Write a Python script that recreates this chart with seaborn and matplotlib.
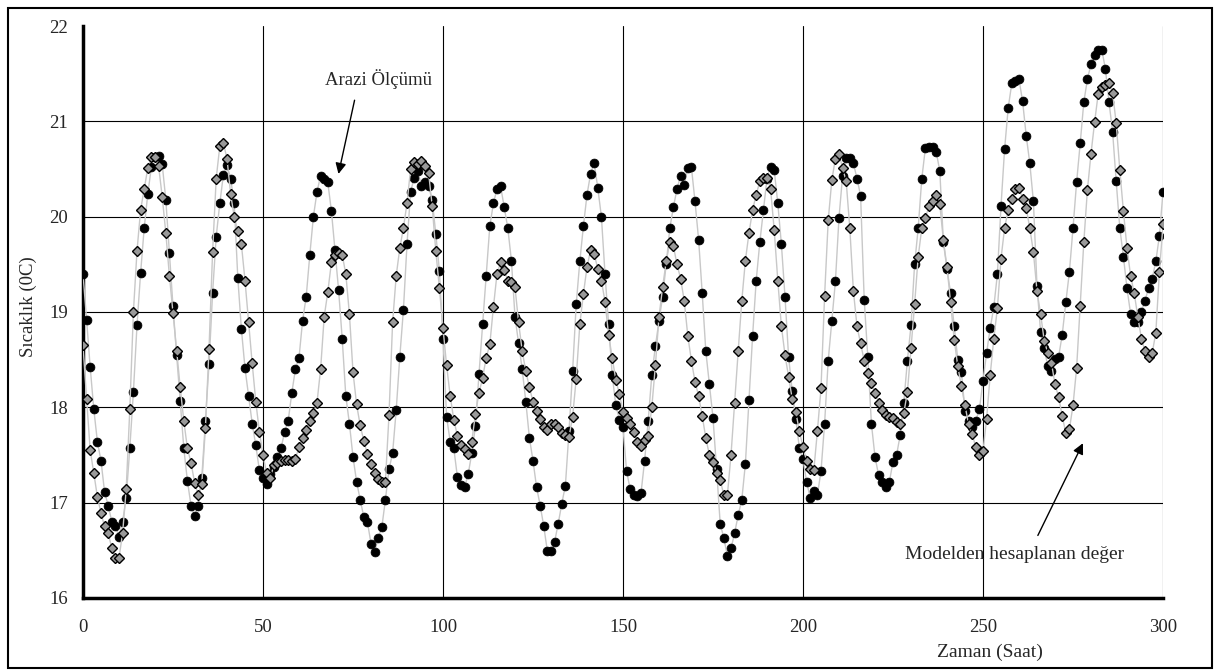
import numpy as np
import matplotlib
matplotlib.use("Agg")
import matplotlib.pyplot as plt
from matplotlib.patches import Rectangle
import seaborn as sns

# -----------------------------
# Data (hourly readings, 0-300 h)
# -----------------------------
hours = np.arange(0, 301)

# Arazi Ölçümü (field measurement, black circles)
arazi = [
    19.40, 18.92, 18.42, 17.98, 17.64, 17.44, 17.11, 16.97, 16.80, 16.76,
    16.64, 16.80, 17.05, 17.57, 18.16, 18.86, 19.41, 19.88, 20.24, 20.52,
    20.63, 20.64, 20.55, 20.18, 19.62, 19.06, 18.55, 18.07, 17.57, 17.23,
    16.97, 16.86, 16.97, 17.26, 17.86, 18.45, 19.20, 19.79, 20.14, 20.44,
    20.54, 20.40, 20.14, 19.36, 18.82, 18.41, 18.12, 17.83, 17.60, 17.34,
    17.26, 17.20, 17.30, 17.37, 17.48, 17.57, 17.74, 17.86, 18.15, 18.40,
    18.52, 18.91, 19.16, 19.60, 20.00, 20.26, 20.43, 20.40, 20.36, 20.06,
    19.65, 19.23, 18.72, 18.12, 17.83, 17.48, 17.22, 17.03, 16.85, 16.80,
    16.57, 16.48, 16.63, 16.74, 17.03, 17.35, 17.52, 17.97, 18.53, 19.02,
    19.71, 20.26, 20.41, 20.48, 20.32, 20.36, 20.32, 20.17, 19.82, 19.43,
    18.72, 17.90, 17.64, 17.57, 17.27, 17.19, 17.16, 17.30, 17.52, 17.80,
    18.35, 18.87, 19.38, 19.90, 20.14, 20.29, 20.32, 20.10, 19.88, 19.54,
    18.95, 18.67, 18.40, 18.06, 17.68, 17.44, 17.16, 16.97, 16.75, 16.49,
    16.49, 16.59, 16.78, 16.99, 17.18, 17.75, 18.38, 19.08, 19.53, 19.90,
    20.23, 20.45, 20.56, 20.30, 20.00, 19.40, 18.87, 18.34, 18.02, 17.87,
    17.79, 17.33, 17.14, 17.08, 17.07, 17.10, 17.44, 17.86, 18.34, 18.64,
    18.91, 19.16, 19.50, 19.88, 20.10, 20.29, 20.43, 20.33, 20.51, 20.52,
    20.16, 19.76, 19.20, 18.59, 18.24, 17.89, 17.35, 16.78, 16.63, 16.44,
    16.52, 16.68, 16.87, 17.03, 17.41, 18.08, 18.75, 19.33, 19.73, 20.07,
    20.40, 20.52, 20.49, 20.14, 19.71, 19.16, 18.53, 18.17, 17.88, 17.57,
    17.46, 17.22, 17.05, 17.12, 17.08, 17.33, 17.83, 18.49, 18.91, 19.32,
    19.99, 20.43, 20.62, 20.62, 20.56, 20.40, 20.22, 19.13, 18.53, 17.83,
    17.48, 17.29, 17.22, 17.16, 17.22, 17.43, 17.50, 17.71, 18.05, 18.49,
    18.86, 19.50, 19.88, 20.40, 20.72, 20.73, 20.73, 20.68, 20.48, 19.73,
    19.45, 19.20, 18.85, 18.50, 18.37, 17.96, 17.86, 17.79, 17.86, 17.98,
    18.28, 18.57, 18.83, 19.05, 19.40, 20.11, 20.71, 21.14, 21.40, 21.42,
    21.44, 21.21, 20.85, 20.56, 20.16, 19.27, 18.79, 18.62, 18.43, 18.38,
    18.51, 18.53, 18.76, 19.10, 19.42, 19.88, 20.36, 20.77, 21.20, 21.44,
    21.60, 21.70, 21.75, 21.75, 21.55, 21.20, 20.89, 20.37, 19.88, 19.58,
    19.25, 18.98, 18.89, 18.89, 19.00, 19.12, 19.25, 19.35, 19.53, 19.80,
    20.26,
]

# Modelden hesaplanan değer (model, grey diamonds)
model = [
    18.65, 18.09, 17.55, 17.31, 17.06, 16.89, 16.75, 16.68, 16.52, 16.42,
    16.42, 16.68, 17.14, 17.98, 19.00, 19.64, 20.07, 20.29, 20.51, 20.63,
    20.63, 20.53, 20.21, 19.83, 19.38, 18.99, 18.59, 18.21, 17.86, 17.57,
    17.42, 17.21, 17.08, 17.20, 17.78, 18.61, 19.63, 20.40, 20.74, 20.77,
    20.61, 20.24, 20.00, 19.85, 19.71, 19.33, 18.89, 18.46, 18.06, 17.74,
    17.50, 17.31, 17.26, 17.39, 17.42, 17.44, 17.45, 17.45, 17.44, 17.46,
    17.58, 17.68, 17.76, 17.86, 17.94, 18.05, 18.40, 18.95, 19.21, 19.52,
    19.60, 19.62, 19.60, 19.40, 18.98, 18.37, 18.03, 17.81, 17.65, 17.51,
    17.41, 17.31, 17.25, 17.22, 17.22, 17.92, 18.89, 19.38, 19.67, 19.88,
    20.14, 20.50, 20.57, 20.55, 20.58, 20.53, 20.46, 20.11, 19.64, 19.25,
    18.83, 18.44, 18.12, 17.87, 17.70, 17.60, 17.56, 17.51, 17.64, 17.93,
    18.15, 18.31, 18.52, 18.66, 19.05, 19.40, 19.52, 19.44, 19.33, 19.31,
    19.26, 18.89, 18.59, 18.38, 18.21, 18.06, 17.96, 17.88, 17.79, 17.76,
    17.82, 17.83, 17.79, 17.73, 17.71, 17.69, 17.90, 18.30, 18.87, 19.19,
    19.47, 19.65, 19.61, 19.45, 19.33, 19.11, 18.76, 18.52, 18.29, 18.14,
    17.95, 17.89, 17.82, 17.74, 17.64, 17.59, 17.66, 17.70, 18.00, 18.44,
    18.95, 19.26, 19.53, 19.73, 19.69, 19.50, 19.35, 19.12, 18.75, 18.49,
    18.27, 18.12, 17.91, 17.68, 17.50, 17.43, 17.31, 17.24, 17.08, 17.08,
    17.50, 18.05, 18.59, 19.12, 19.54, 19.83, 20.07, 20.23, 20.37, 20.41,
    20.41, 20.29, 19.86, 19.33, 18.85, 18.55, 18.32, 18.09, 17.95, 17.75,
    17.58, 17.44, 17.35, 17.34, 17.75, 18.20, 19.17, 19.96, 20.38, 20.61,
    20.66, 20.51, 20.37, 19.88, 19.22, 18.85, 18.67, 18.49, 18.36, 18.25,
    18.15, 18.05, 17.97, 17.92, 17.90, 17.89, 17.85, 17.83, 17.94, 18.16,
    18.62, 19.08, 19.58, 19.88, 19.99, 20.11, 20.16, 20.23, 20.13, 19.75,
    19.47, 19.10, 18.71, 18.43, 18.22, 18.02, 17.82, 17.72, 17.58, 17.50,
    17.54, 17.88, 18.34, 18.72, 19.04, 19.56, 19.88, 20.07, 20.19, 20.29,
    20.30, 20.19, 20.09, 19.88, 19.63, 19.22, 18.98, 18.70, 18.57, 18.47,
    18.24, 18.11, 17.91, 17.73, 17.77, 18.02, 18.41, 19.06, 19.73, 20.28,
    20.66, 20.99, 21.29, 21.36, 21.38, 21.40, 21.30, 20.98, 20.49, 20.06,
    19.67, 19.38, 19.20, 18.95, 18.72, 18.59, 18.53, 18.57, 18.78, 19.42,
    19.92,
]

x_ticks = [0, 50, 100, 150, 200, 250, 300]
y_ticks = [16, 17, 18, 19, 20, 21, 22]

# -----------------------------
# Style
# -----------------------------
sns.set_style("white")
plt.rcParams["font.family"] = ["Liberation Serif", "DejaVu Serif"]

fig = plt.figure(figsize=(12.2, 6.71), dpi=100)
ax = fig.add_axes([83 / 1220, 1 - 598 / 671, 1080 / 1220, 572 / 671])

# grid lines (no line at 16/22 and 0)
for yv in y_ticks[1:-1]:
    ax.axhline(yv, color="black", lw=0.8, zorder=1)
for xv in x_ticks[1:]:
    ax.axvline(xv, color="black", lw=0.8, zorder=1)

# -----------------------------
# Series
# -----------------------------
sns.lineplot(x=hours, y=arazi, ax=ax, color="#c8c8c8", lw=1.0,
             marker="o", markersize=6.4, markerfacecolor="black",
             markeredgecolor="black", markeredgewidth=0.5, zorder=3)
sns.lineplot(x=hours, y=model, ax=ax, color="#c8c8c8", lw=1.0,
             marker="D", markersize=5.2, markerfacecolor="#999999",
             markeredgecolor="black", markeredgewidth=1.0, zorder=4)

# -----------------------------
# Axes
# -----------------------------
ax.set_xlim(0, 300)
ax.set_ylim(16, 22)
ax.set_xticks(x_ticks)
ax.set_yticks(y_ticks)
ax.tick_params(axis="both", direction="out", length=5, width=1.5,
               labelsize=13.5, color="black", pad=6)
ax.tick_params(axis="x", pad=10)

for side in ["top", "right"]:
    ax.spines[side].set_visible(False)
for side in ["left", "bottom"]:
    ax.spines[side].set_color("black")
    ax.spines[side].set_linewidth(2.5)

ax.set_xlabel("Zaman (Saat)", fontsize=14)
ax.set_ylabel("Sıcaklık (0C)", fontsize=13.5)
ax.xaxis.set_label_coords(0.84, -0.08)
ax.yaxis.set_label_coords(-0.043, 0.51)

# -----------------------------
# Annotations
# -----------------------------
ax.text(82.2, 21.44, "Arazi Ölçümü", fontsize=13.5, ha="center", va="center")
ax.annotate("", xy=(70.8, 20.42), xytext=(75.6, 21.25),
            arrowprops=dict(arrowstyle="-|>", color="black", lw=1.0,
                            mutation_scale=16))

ax.text(258.9, 16.46, "Modelden hesaplanan değer", fontsize=14,
        ha="center", va="center")
ax.annotate("", xy=(278.1, 17.65), xytext=(264.9, 16.63),
            arrowprops=dict(arrowstyle="-|>", color="black", lw=1.0,
                            mutation_scale=16))

# outer frame
fig.patches.append(Rectangle((8 / 1220, 3 / 671), 1204 / 1220, 660 / 671,
                             transform=fig.transFigure, fill=False,
                             edgecolor="black", lw=1.5))

fig.savefig("out.png", dpi=100)
plt.close(fig)
